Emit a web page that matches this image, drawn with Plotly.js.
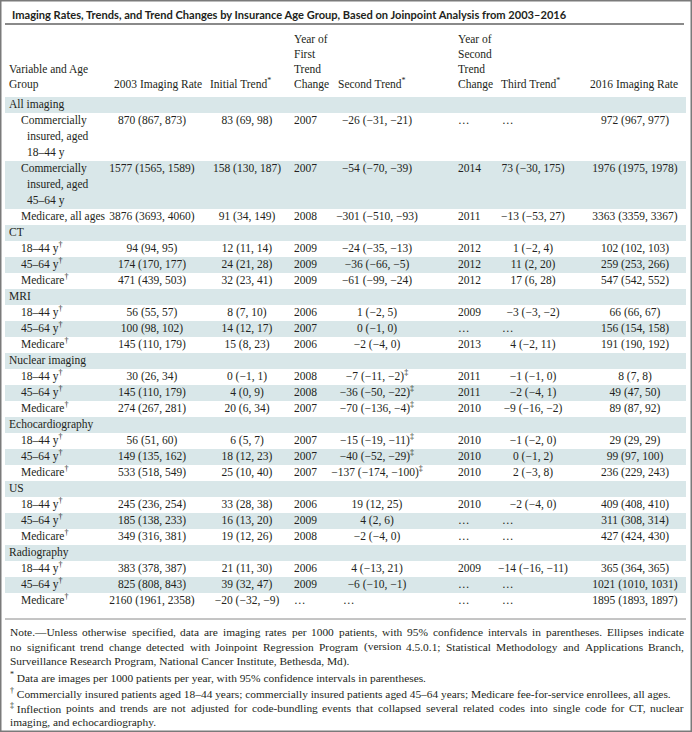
<!DOCTYPE html>
<html><head><meta charset="utf-8">
<script src="https://cdn.plot.ly/plotly-3.0.1.min.js"></script>
<style>html,body{margin:0;padding:0;background:#fff}#chart{width:692px;height:732px}</style>
</head><body><div id="chart"></div>
<script>
// ---------------- DATA ----------------
const titleText = 'Imaging Rates, Trends, and Trend Changes by Insurance Age Group, Based on Joinpoint Analysis from 2003–2016';

const sectionNames = ['All imaging', 'CT', 'MRI', 'Nuclear imaging', 'Echocardiography', 'US', 'Radiography'];

const headers = [
  'Variable and Age\nGroup',
  '2003 Imaging Rate',
  'Initial Trend<sup>*</sup>',
  'Year of\nFirst\nTrend\nChange',
  'Second Trend<sup>*</sup>',
  'Year of\nSecond\nTrend\nChange',
  'Third Trend<sup>*</sup>',
  '2016 Imaging Rate'
];

const variable = [
  'All imaging',
  'Commercially\ninsured, aged\n18–44 y',
  'Commercially\ninsured, aged\n45–64 y',
  'Medicare, all ages',
  'CT', '18–44 y<sup>†</sup>', '45–64 y<sup>†</sup>', 'Medicare<sup>†</sup>',
  'MRI', '18–44 y<sup>†</sup>', '45–64 y<sup>†</sup>', 'Medicare<sup>†</sup>',
  'Nuclear imaging', '18–44 y<sup>†</sup>', '45–64 y<sup>†</sup>', 'Medicare<sup>†</sup>',
  'Echocardiography', '18–44 y<sup>†</sup>', '45–64 y<sup>†</sup>', 'Medicare<sup>†</sup>',
  'US', '18–44 y<sup>†</sup>', '45–64 y<sup>†</sup>', 'Medicare<sup>†</sup>',
  'Radiography', '18–44 y<sup>†</sup>', '45–64 y<sup>†</sup>', 'Medicare<sup>†</sup>'
];

const rate2003 = [
  '', '870 (867, 873)', '1577 (1565, 1589)', '3876 (3693, 4060)',
  '', '94 (94, 95)', '174 (170, 177)', '471 (439, 503)',
  '', '56 (55, 57)', '100 (98, 102)', '145 (110, 179)',
  '', '30 (26, 34)', '145 (110, 179)', '274 (267, 281)',
  '', '56 (51, 60)', '149 (135, 162)', '533 (518, 549)',
  '', '245 (236, 254)', '185 (138, 233)', '349 (316, 381)',
  '', '383 (378, 387)', '825 (808, 843)', '2160 (1961, 2358)'
];

const initialTrend = [
  '', '83 (69, 98)', '158 (130, 187)', '91 (34, 149)',
  '', '12 (11, 14)', '24 (21, 28)', '32 (23, 41)',
  '', '8 (7, 10)', '14 (12, 17)', '15 (8, 23)',
  '', '0 (−1, 1)', '4 (0, 9)', '20 (6, 34)',
  '', '6 (5, 7)', '18 (12, 23)', '25 (10, 40)',
  '', '33 (28, 38)', '16 (13, 20)', '19 (12, 26)',
  '', '21 (11, 30)', '39 (32, 47)', '−20 (−32, −9)'
];

const firstChangeYear = [
  '', '2007', '2007', '2008',
  '', '2009', '2009', '2009',
  '', '2006', '2007', '2006',
  '', '2008', '2008', '2007',
  '', '2007', '2007', '2007',
  '', '2006', '2009', '2008',
  '', '2006', '2009', '…'
];

const secondTrend = [
  '', '−26 (−31, −21)', '−54 (−70, −39)', '−301 (−510, −93)',
  '', '−24 (−35, −13)', '−36 (−66, −5)', '−61 (−99, −24)',
  '', '1 (−2, 5)', '0 (−1, 0)', '−2 (−4, 0)',
  '', '−7 (−11, −2)<sup>‡</sup>', '−36 (−50, −22)<sup>‡</sup>', '−70 (−136, −4)<sup>‡</sup>',
  '', '−15 (−19, −11)<sup>‡</sup>', '−40 (−52, −29)<sup>‡</sup>', '−137 (−174, −100)<sup>‡</sup>',
  '', '19 (12, 25)', '4 (2, 6)', '−2 (−4, 0)',
  '', '4 (−13, 21)', '−6 (−10, −1)', '…'
];

const secondChangeYear = [
  '', '…', '2014', '2011',
  '', '2012', '2012', '2012',
  '', '2009', '…', '2013',
  '', '2011', '2011', '2010',
  '', '2010', '2010', '2010',
  '', '2010', '…', '…',
  '', '2009', '…', '…'
];

const thirdTrend = [
  '', '…', '73 (−30, 175)', '−13 (−53, 27)',
  '', '1 (−2, 4)', '11 (2, 20)', '17 (6, 28)',
  '', '−3 (−3, −2)', '…', '4 (−2, 11)',
  '', '−1 (−1, 0)', '−2 (−4, 1)', '−9 (−16, −2)',
  '', '−1 (−2, 0)', '0 (−1, 2)', '2 (−3, 8)',
  '', '−2 (−4, 0)', '…', '…',
  '', '−14 (−16, −11)', '…', '…'
];

const rate2016 = [
  '', '972 (967, 977)', '1976 (1975, 1978)', '3363 (3359, 3367)',
  '', '102 (102, 103)', '259 (253, 266)', '547 (542, 552)',
  '', '66 (66, 67)', '156 (154, 158)', '191 (190, 192)',
  '', '8 (7, 8)', '49 (47, 50)', '89 (87, 92)',
  '', '29 (29, 29)', '99 (97, 100)', '236 (229, 243)',
  '', '409 (408, 410)', '311 (308, 314)', '427 (424, 430)',
  '', '365 (364, 365)', '1021 (1010, 1031)', '1895 (1893, 1897)'
];

const noteLines = [
  'Note.—Unless otherwise specified, data are imaging rates per 1000 patients, with 95% confidence intervals in parentheses. Ellipses indicate',
  'no significant trend change detected with Joinpoint Regression Program (version 4.5.0.1; Statistical Methodology and Applications Branch,',
  'Surveillance Research Program, National Cancer Institute, Bethesda, Md).',
  '<sup>*</sup> Data are images per 1000 patients per year, with 95% confidence intervals in parentheses.',
  '<sup>†</sup> Commercially insured patients aged 18–44 years; commercially insured patients aged 45–64 years; Medicare fee-for-service enrollees, all ages.',
  '<sup>‡</sup> Inflection points and trends are not adjusted for code-bundling events that collapsed several related codes into single code for CT, nuclear',
  'imaging, and echocardiography.'
];

// ---------------- LAYOUT CONSTANTS ----------------
const W = 692, H = 732;
const SERIF = 'Liberation Serif, Times New Roman, serif';
const INK = '#231f20';
const BAND = '#d9e7e9';
const RULE = '#8a8a8a';
const bodyFont = {family: SERIF, size: 11.5, color: INK};
const noteSize = 11.4;
const noteFont = {family: SERIF, size: noteSize, color: INK};

const colLeft   = [9, 114, 210, 294, 338, 458, 501, 590];
const colCenter = [null, 152, 247, null, 377, null, 533, 635];
const ellLeft   = [null, null, null, 294, 343, 458, 502, null];
const subIndent = 21, wrapIndent = 27;
const headerBottom = 85, headerPitch = 15;
const bodyTop = 97, P = 16;
const bandX0 = 5, bandX1 = 686;
const noteY = [632, 646.5, 661, 677, 693, 708, 722];
const noteJustify = [true, true, false, false, false, true, false];
const noteX0 = 9, noteX1 = 683;

const columns = [rate2003, initialTrend, firstChangeYear, secondTrend, secondChangeYear, thirdTrend, rate2016];

// ---------------- BUILD ----------------
const traces = [];
const shapes = [];

const rowTop = [];
let yCur = bodyTop;
variable.forEach(v => { rowTop.push(yCur); yCur += v.split('\n').length * P; });
const bodyBottom = yCur;
const isSection = variable.map(v => sectionNames.includes(v));
const isShaded = variable.map((v, i) => isSection[i] || v.indexOf('45–64') >= 0);

variable.forEach((v, i) => {
  if (!isShaded[i]) return;
  const h = v.split('\n').length * P;
  shapes.push({type: 'rect', xref: 'x', yref: 'y', x0: bandX0, x1: bandX1, y0: rowTop[i], y1: rowTop[i] + h,
    fillcolor: BAND, line: {width: 0}, layer: 'below'});
});

// header text
const hx = [], hy = [], ht = [];
headers.forEach((h, c) => {
  const lines = h.split('\n');
  lines.forEach((ln, k) => {
    hx.push(colLeft[c]);
    hy.push(headerBottom - (lines.length - 1 - k) * headerPitch);
    ht.push(ln);
  });
});
traces.push({type: 'scatter', mode: 'text', x: hx, y: hy, text: ht, textposition: 'middle right',
  textfont: bodyFont, hoverinfo: 'skip', cliponaxis: false, showlegend: false});

// label column
const lx = [], ly = [], lt = [];
variable.forEach((v, i) => {
  const lines = v.split('\n');
  lines.forEach((ln, k) => {
    lx.push(isSection[i] ? colLeft[0] : (k === 0 ? subIndent : wrapIndent));
    ly.push(rowTop[i] + (k + 0.5) * P);
    lt.push(ln);
  });
});
traces.push({type: 'scatter', mode: 'text', x: lx, y: ly, text: lt, textposition: 'middle right',
  textfont: bodyFont, hoverinfo: 'skip', cliponaxis: false, showlegend: false});

// value columns
columns.forEach((col, j) => {
  const c = j + 1;
  const xs = [], ys = [], ts = [], pos = [];
  col.forEach((val, i) => {
    if (isSection[i] || val === '') return;
    ys.push(rowTop[i] + 0.5 * P);
    ts.push(val);
    if (val === '…') { xs.push(ellLeft[c]); pos.push('middle right'); }
    else if (colCenter[c] !== null) { xs.push(colCenter[c]); pos.push('middle center'); }
    else { xs.push(colLeft[c]); pos.push('middle right'); }
  });
  traces.push({type: 'scatter', mode: 'text', x: xs, y: ys, text: ts, textposition: pos,
    textfont: bodyFont, hoverinfo: 'skip', cliponaxis: false, showlegend: false});
});

// rules and border
shapes.push({type: 'line', xref: 'x', yref: 'y', x0: bandX0, x1: bandX1 - 2, y0: 24, y1: 24, line: {color: RULE, width: 2}});
shapes.push({type: 'line', xref: 'x', yref: 'y', x0: bandX0, x1: bandX1, y0: bodyBottom + 10, y1: bodyBottom + 10, line: {color: RULE, width: 1}});
shapes.push({type: 'rect', xref: 'x', yref: 'y', x0: 0.75, x1: W - 0.75, y0: 0.75, y1: H - 0.75, line: {color: '#7a7a7a', width: 1.5}});

// notes (justified lines are laid out word by word)
const ctx = document.createElement('canvas').getContext('2d');
function measurePlain(s, size) {
  ctx.font = size + 'px "Liberation Serif"';
  return ctx.measureText(s).width;
}
function measure(tok, size) {
  const m = tok.match(/^<sup>(.*?)<\/sup>(.*)$/);
  if (m) return measurePlain(m[1], size * 0.7) + measurePlain(m[2], size);
  return measurePlain(tok, size);
}
const annotations = [];
noteLines.forEach((t, k) => {
  if (!noteJustify[k]) {
    annotations.push({text: t, xref: 'x', yref: 'y', x: noteX0, y: noteY[k], xanchor: 'left', yanchor: 'middle',
      showarrow: false, align: 'left', font: noteFont, borderpad: 0});
    return;
  }
  // keep a leading footnote mark attached to the following word
  const raw = t.split(' ');
  const words = [];
  for (let i = 0; i < raw.length; i++) {
    if (/^<sup>.*<\/sup>$/.test(raw[i]) && i + 1 < raw.length) { words.push(raw[i] + ' ' + raw[i + 1]); i++; }
    else words.push(raw[i]);
  }
  const widths = words.map(w => measure(w, noteSize));
  const total = widths.reduce((a, b) => a + b, 0);
  const gap = (noteX1 - noteX0 - total) / (words.length - 1);
  let x = noteX0;
  words.forEach((w, i) => {
    annotations.push({text: w, xref: 'x', yref: 'y', x: x, y: noteY[k], xanchor: 'left', yanchor: 'middle',
      showarrow: false, align: 'left', font: noteFont, borderpad: 0});
    x += widths[i] + gap;
  });
});

const layout = {
  width: W, height: H,
  margin: {l: 0, r: 0, t: 0, b: 0, pad: 0},
  paper_bgcolor: '#fff', plot_bgcolor: '#fff',
  title: {text: '<b>' + titleText + '</b>', x: 12 / W, xanchor: 'left', xref: 'paper',
    y: 1 - 15 / H, yanchor: 'middle', yref: 'paper',
    font: {family: 'Lato, Open Sans, sans-serif', size: 11.1, color: INK}},
  xaxis: {range: [0, W], visible: false, fixedrange: true},
  yaxis: {range: [H, 0], visible: false, fixedrange: true},
  shapes: shapes,
  annotations: annotations,
  showlegend: false
};

Plotly.newPlot('chart', traces, layout, {staticPlot: true, displayModeBar: false});
</script>
</body></html>
